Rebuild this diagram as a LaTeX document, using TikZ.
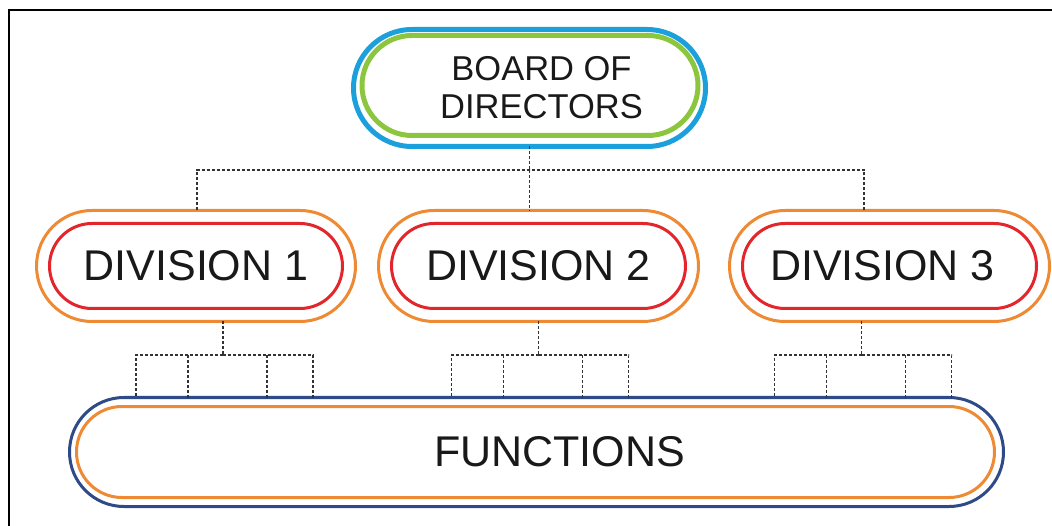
\documentclass[tikz,border=0pt]{standalone}
\usepackage{fontspec}
\setmainfont{Liberation Sans}
\usepackage{tikz}
\usetikzlibrary{shapes.misc}
\definecolor{boardblue}{RGB}{27,160,219}
\definecolor{boardgreen}{RGB}{140,198,63}
\definecolor{divorange}{RGB}{238,138,52}
\definecolor{divred}{RGB}{226,38,43}
\definecolor{funcnavy}{RGB}{46,74,135}
\tikzset{
  pill/.style={rounded rectangle, outer sep=0pt, inner sep=0pt, text=black!90},
  link/.style={black!80, line width=1.6pt, dash pattern=on 3pt off 2pt},
}

\begin{document}
\begin{tikzpicture}[x=1pt,y=-1pt]
\useasboundingbox (0,0) rectangle (1052,526);
\draw[line width=1.2pt] (9,526) -- (9,10) -- (1052,10);

\node[pill, draw=boardblue, line width=5pt, minimum width=352pt, minimum height=117pt,
      align=center, font=\fontsize{34.5}{38}\selectfont] (board) at (529.5,88)
      {\hspace*{24pt}BOARD OF\\\hspace*{24pt}DIRECTORS};
\node[pill, draw=boardgreen, line width=5pt, minimum width=336pt, minimum height=100pt] (boardin) at (530,85.5) {};

\node[pill, draw=divorange, line width=3pt, minimum width=319pt, minimum height=111pt,
      font=\fontsize{43}{48}\selectfont] (div1) at (196,266) {DIVISION 1};
\node[pill, draw=divred, line width=3pt, minimum width=293pt, minimum height=85pt] (div1in) at (196,266) {};
\node[pill, draw=divorange, line width=3pt, minimum width=320pt, minimum height=111pt,
      font=\fontsize{43}{48}\selectfont] (div2) at (538.5,266) {DIVISION 2};
\node[pill, draw=divred, line width=3pt, minimum width=294pt, minimum height=85pt] (div2in) at (538.5,266) {};
\node[pill, draw=divorange, line width=3pt, minimum width=320pt, minimum height=111pt,
      font=\fontsize{43}{48}\selectfont] (div3) at (889.5,266) {DIVISION 3\hspace*{14pt}};
\node[pill, draw=divred, line width=3pt, minimum width=294pt, minimum height=85pt] (div3in) at (889.5,266) {};

\node[pill, draw=funcnavy, line width=3pt, minimum width=934pt, minimum height=109pt,
      font=\fontsize{43}{48}\selectfont] (func) at (536.5,452) {\hspace*{46pt}FUNCTIONS};
\node[pill, draw=divorange, line width=3pt, minimum width=918pt, minimum height=91pt] (funcin) at (535.5,452) {};

% board to divisions
\coordinate (bus) at (529.5,170);
\draw[link] (board.south) -- (bus);
\draw[link] (bus) -- (div2.north -| bus);
\draw[link] ([xshift=1pt]div1.north) |- (bus);
\draw[link] ([xshift=-25.5pt]div3.north) |- (bus);

% divisions to functions
\draw[link] ([xshift=27pt]div1.south) -- ++(0,33.5) coordinate (fork1);
\draw[link] (fork1) -- ++(-87,0) coordinate (t) -- (t |- func.north);
\draw[link] (fork1) -- ++(90,0) coordinate (t) -- (t |- func.north);
\draw[link] (fork1) ++(-35,0) coordinate (t) -- (t |- func.north);
\draw[link] (fork1) ++(44,0) coordinate (t) -- (t |- func.north);

\draw[link] (div2.south) -- ++(0,33.5) coordinate (fork2);
\draw[link] (fork2) -- ++(-87,0) coordinate (t) -- (t |- func.north);
\draw[link] (fork2) -- ++(90,0) coordinate (t) -- (t |- func.north);
\draw[link] (fork2) ++(-35,0) coordinate (t) -- (t |- func.north);
\draw[link] (fork2) ++(44,0) coordinate (t) -- (t |- func.north);

\draw[link] ([xshift=-28pt]div3.south) -- ++(0,33.5) coordinate (fork3);
\draw[link] (fork3) -- ++(-87,0) coordinate (t) -- (t |- func.north);
\draw[link] (fork3) -- ++(90,0) coordinate (t) -- (t |- func.north);
\draw[link] (fork3) ++(-35,0) coordinate (t) -- (t |- func.north);
\draw[link] (fork3) ++(44,0) coordinate (t) -- (t |- func.north);
\end{tikzpicture}
\end{document}
